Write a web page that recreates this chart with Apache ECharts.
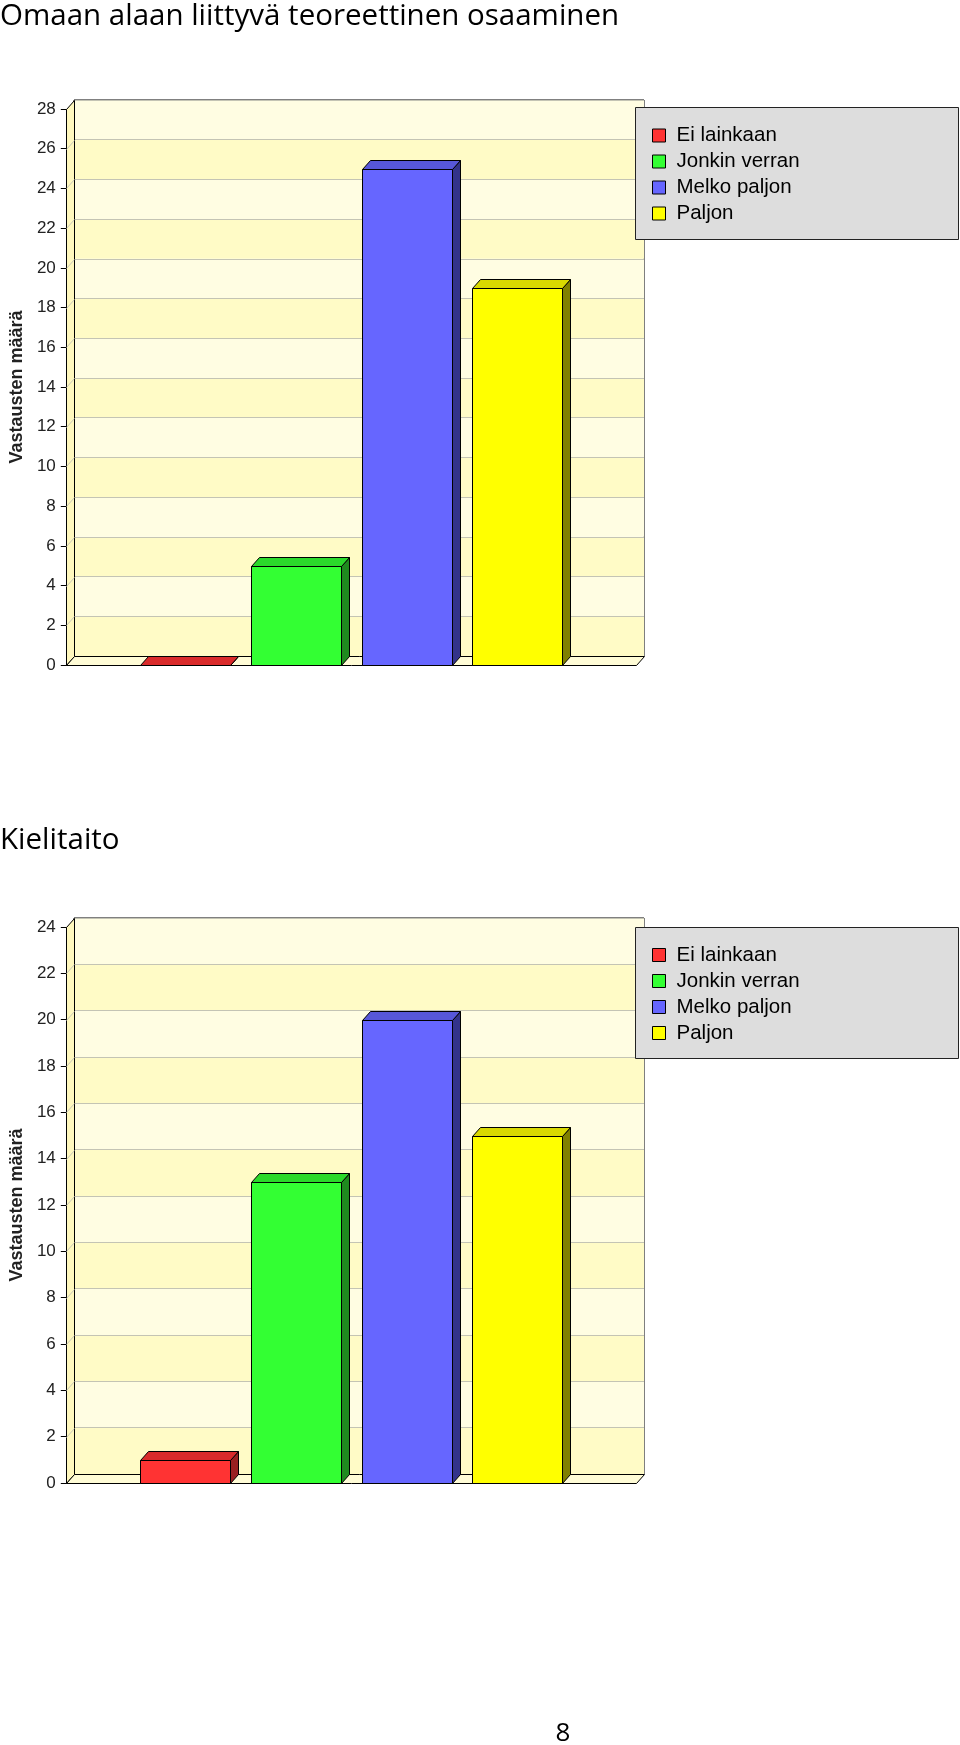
<!DOCTYPE html>
<html>
<head>
<meta charset="utf-8">
<script src="https://cdn.jsdelivr.net/npm/echarts@6/dist/echarts.min.js"></script>
<style>
  html, body { margin: 0; padding: 0; background: #fff; }
  #main { width: 960px; height: 1745px; }
</style>
</head>
<body>
<div id="main"></div>
<script>
// ---- data ----
const categories = ['Ei lainkaan', 'Jonkin verran', 'Melko paljon', 'Paljon'];
const chartTitles = ['Omaan alaan liittyvä teoreettinen osaaminen', 'Kielitaito'];
const values1 = [0, 5, 25, 19];
const values2 = [1, 13, 20, 15];
const yMax1 = 28;
const yMax2 = 24;
const yInterval = 2;
const yAxisName = 'Vastausten määrä';
const pageNumber = '8';

// ---- style / layout ----
const FONT = "'Liberation Sans', Arial, sans-serif";
const TITLE_FONT = "'Open Sans', sans-serif";
const FRONT = ['#FF3333', '#33FF33', '#6666FF', '#FFFF00'];
const TOP = ['#D92B2B', '#2BD92B', '#5757D9', '#D9D900'];
const SIDE = ['#992020', '#1F8A1F', '#33338A', '#808000'];
const DX = 8, DY = 9, BW = 90, GAP = 20.7;
const layouts = [
  { left: 66, top: 109, width: 570, height: 556, yMax: yMax1, values: values1, titleY: 16.5, legendTop: 125, boxTop: 107, boxH: 132 },
  { left: 66, top: 927, width: 570, height: 556, yMax: yMax2, values: values2, titleY: 840.5, legendTop: 944.5, boxTop: 927, boxH: 131 }
];

const chart = echarts.init(document.getElementById('main'), null, { renderer: 'canvas' });

function makeRender(k) {
  return function (params, api) {
    const v = api.value(1);
    const base = api.coord([0, 0]);
    const top = api.coord([0, v]);
    const cx = base[0];
    const x0 = Math.round(cx + (k - 1.5) * (BW + GAP) - BW / 2) - 0.5;
    const x1 = x0 + BW;
    const yb = Math.round(base[1]) + 0.5;
    const yt = Math.round(top[1]) + 0.5;
    const children = [];
    if (yb - yt > 0.5) {
      children.push({ type: 'rect', shape: { x: x0, y: yt, width: BW, height: yb - yt },
        style: { fill: FRONT[k], stroke: '#000', lineWidth: 1 } });
    }
    children.push({ type: 'polygon', shape: { points: [[x1, yt], [x1 + DX, yt - DY], [x1 + DX, yb - DY], [x1, yb]] },
      style: { fill: SIDE[k], stroke: '#000', lineWidth: 1 } });
    children.push({ type: 'polygon', shape: { points: [[x0, yt], [x0 + DX, yt - DY], [x1 + DX, yt - DY], [x1, yt]] },
      style: { fill: TOP[k], stroke: '#000', lineWidth: 1 } });
    return { type: 'group', children: children };
  };
}

const grid = [], xAxis = [], yAxis = [], series = [], legend = [], graphic = [];

layouts.forEach(function (L, c) {
  const fi = grid.length;
  grid.push({ left: L.left, top: L.top, width: L.width, height: L.height });
  grid.push({ left: L.left + DX, top: L.top - DY, width: L.width, height: L.height,
    show: true, borderColor: '#000', borderWidth: 1, backgroundColor: 'transparent' });
  xAxis.push({ type: 'category', gridIndex: fi, data: [''], show: false });
  xAxis.push({ type: 'category', gridIndex: fi + 1, data: [''], show: false });
  yAxis.push({
    type: 'value', gridIndex: fi, min: 0, max: L.yMax, interval: yInterval,
    axisLine: { show: true, lineStyle: { color: '#000', width: 1 } },
    axisTick: { show: true, length: 8, lineStyle: { color: '#000' } },
    axisLabel: { fontFamily: FONT, fontSize: 17, color: '#222', margin: 13 },
    splitLine: { show: false },
    name: yAxisName, nameLocation: 'middle', nameRotate: 90, nameGap: 40,
    nameTextStyle: { fontFamily: FONT, fontSize: 18, fontWeight: 'bold', color: '#222' }
  });
  yAxis.push({
    type: 'value', gridIndex: fi + 1, min: 0, max: L.yMax, interval: yInterval,
    axisLine: { show: false }, axisTick: { show: false }, axisLabel: { show: false },
    splitLine: { show: true, lineStyle: { color: '#C4C4B4', width: 1 } },
    splitArea: { show: true, areaStyle: { color: ['#FFFBC6', '#FFFDE2'] } }
  });
  categories.forEach(function (name, k) {
    series.push({
      type: 'custom', name: name, xAxisIndex: fi, yAxisIndex: fi,
      data: [[0, L.values[k]]], renderItem: makeRender(k),
      itemStyle: { color: FRONT[k], borderColor: '#000', borderWidth: 1 }, z: 3
    });
  });
  legend.push({
    data: categories, left: 652, top: L.legendTop, orient: 'vertical', icon: 'rect',
    itemWidth: 13, itemHeight: 13, itemGap: 5, padding: 0, selectedMode: false,
    itemStyle: { borderColor: '#000', borderWidth: 1 },
    textStyle: { fontFamily: FONT, fontSize: 20.5, lineHeight: 19, color: '#000', padding: [0, 0, 0, 6] }
  });
  // 3D frame: left wall, floor, diagonal guide lines
  const l = L.left + 0.5, t = L.top + 0.5, b = L.top + L.height + 0.5, r = L.left + L.width + 0.5;
  graphic.push({ type: 'polygon', z: 1, shape: { points: [[l, b], [l, t], [l + DX, t - DY], [l + DX, b - DY]] },
    style: { fill: '#FFF8BE', stroke: '#000', lineWidth: 1 } });
  for (let v = yInterval; v < L.yMax; v += yInterval) {
    const y = Math.round(L.top + L.height - v * L.height / L.yMax) + 0.5;
    graphic.push({ type: 'line', z: 1, shape: { x1: l, y1: y, x2: l + DX, y2: y - DY },
      style: { stroke: '#C8C8B8', lineWidth: 1 } });
  }
  graphic.push({ type: 'polygon', z: 1, shape: { points: [[l, b], [r, b], [r + DX, b - DY], [l + DX, b - DY]] },
    style: { fill: '#FFFCD6', stroke: '#000', lineWidth: 1 } });
  // legend box
  graphic.push({ type: 'rect', z: 3, shape: { x: 635.5, y: L.boxTop + 0.5, width: 323, height: L.boxH },
    style: { fill: '#DDDDDD', stroke: '#222', lineWidth: 1 } });
  // title
  graphic.push({ type: 'text', z: 5, x: 0, y: L.titleY,
    style: { text: chartTitles[c], font: "29.5px " + TITLE_FONT, fill: '#000', textAlign: 'left', textVerticalAlign: 'middle' } });
});

graphic.push({ type: 'text', z: 5, x: 563, y: 1734,
  style: { text: pageNumber, font: "26px " + TITLE_FONT, fill: '#000', textAlign: 'center', textVerticalAlign: 'middle' } });

chart.setOption({
  animation: false,
  backgroundColor: '#fff',
  grid: grid, xAxis: xAxis, yAxis: yAxis, series: series, legend: legend, graphic: graphic
});
</script>
</body>
</html>
